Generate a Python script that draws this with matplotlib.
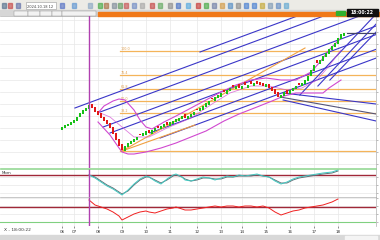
import matplotlib
matplotlib.use("Agg")
from matplotlib import pyplot as plt
from matplotlib.patches import Rectangle
import numpy as np

W, H = 380, 240

# price candles, one per bar (bar 0 = first candle on the chart)
closes = [41, 43, 44, 46, 48, 51, 55, 58, 60, 63,
          60, 56, 53, 50, 47, 44, 40, 34, 28, 22,
          18, 22, 25, 27, 29, 31, 33, 35, 37, 35,
          38, 40, 40, 42, 44, 43, 46, 47, 49, 50,
          52, 50, 52, 54, 56, 58, 60, 62, 65, 67,
          69, 71, 73, 75, 76, 78, 80, 81, 82, 80,
          82, 83, 83, 84, 85, 84, 83, 82, 84, 80,
          77, 74, 71, 73, 76, 74, 78, 80, 82, 83,
          85, 88, 92, 98, 103, 105, 108, 112, 115, 119,
          122, 125, 130, 134, 135]
opens = [38, 40, 42, 43, 45, 47, 51, 54, 57, 59,
         64, 61, 57, 55, 51, 48, 45, 41, 35, 29,
         24, 17, 21, 24, 26, 28, 34, 32, 33, 38,
         34, 37, 42, 39, 41, 46, 42, 44, 46, 47,
         49, 54, 49, 51, 53, 59, 57, 58, 61, 63,
         70, 67, 70, 71, 78, 74, 77, 83, 79, 84,
         79, 86, 80, 87, 82, 87, 86, 85, 81, 84,
         81, 79, 76, 70, 72, 78, 74, 77, 79, 85,
         82, 84, 87, 92, 97, 108, 104, 107, 111, 114,
         118, 121, 124, 129, 132]

day_bars = [0, 4, 12, 20, 28, 36, 45, 53, 60, 68, 76, 84, 92]
day_labels = ["06", "07", "08", "09", "10", "11", "12", "13", "14", "15", "16", "17", "18"]

# bands (bar, price)
upper_bars = [12, 14, 17, 19, 21, 24, 26, 28, 30, 34, 38, 43, 48, 53, 58, 63, 68, 73, 78, 83, 86, 89, 93]
upper_vals = [55, 62, 67, 69, 68, 58, 48, 41, 39, 46, 52, 60, 68, 76, 83, 88, 90, 88, 88, 96, 106, 118, 130]
mid_bars = [12, 16, 20, 24, 29, 35, 43, 50, 56, 63, 69, 75, 80, 85, 89, 93]
mid_vals = [56, 51, 41, 31, 31, 40, 50, 64, 75, 82, 82, 78, 80, 88, 102, 118]
lower_bars = [12, 16, 19, 20, 22, 24, 28, 33, 38, 43, 48, 54, 59, 65, 70, 74, 78, 83, 87, 89, 93]
lower_vals = [46, 33, 20, 16, 14, 14, 16, 20, 25, 31, 37, 47, 54, 61, 67, 72, 75, 75, 75, 80, 88]

# fibonacci levels
fib_low, fib_high = 17, 117
fib_levels = [0.0, 0.382, 0.5, 0.618, 0.764, 1.0]
fib_start = 19.3

# parallel channel lines: start point + common slope
fork_slope = 1.11
fork_bar0 = [4.3, 12.7, 13.7, 16.0, 29.3, 32.7, 46.0]
fork_val0 = [60, 56, 41, 35, 35, 30, 116]

# other trend lines (bar0, val0, bar1, val1)
steep_lines = [(79.3, 73, 104.7, 154), (85.3, 82, 104.7, 144), (89.3, 88, 104.7, 136)]
down_lines = [(73.7, 75, 104.7, 64), (72.7, 71, 104.7, 54), (73.7, 68, 104.7, 47)]
orange_lines = [(20, 17, 81, 120), (20, 17, 44.3, 43)]
last_price = 135

# indicator panels
osc_bars = [9, 11, 13, 15, 17, 19, 20, 22, 24, 26, 28, 29, 31, 33, 35, 37, 38, 40, 41, 43, 45, 47,
            49, 51, 53, 55, 57, 59, 61, 63, 65, 67, 69, 71, 73, 75, 77, 79, 81, 83, 85, 87, 90, 92]
osc_main = [22, 19, 15, 11, 8, 4, 2, 7, 13, 18, 21, 20, 16, 13, 18, 22, 23, 20, 17, 16, 18, 20,
            19, 17, 19, 21, 20, 22, 21, 22, 23, 21, 20, 16, 13, 15, 18, 20, 21, 22, 23, 24, 25, 27]
osc_sig = [22, 20, 16, 12, 9, 5, 3, 6, 12, 17, 20, 20, 17, 14, 17, 21, 22, 20, 18, 16, 17, 19,
           19, 18, 18, 20, 20, 21, 21, 21, 22, 21, 20, 17, 14, 14, 17, 19, 20, 21, 22, 23, 24, 26]
osc_level = 22
mom = [22, 17, 15, 13, 10, 6, 2, 5, 8, 10, 11, 10, 9, 11, 13, 14, 15, 13, 12, 12, 13, 14,
       15, 16, 15, 16, 16, 15, 16, 16, 15, 16, 14, 10, 7, 9, 11, 12, 14, 15, 16, 17, 20, 23]
mom_level = 15
marker_bar = 9

XL = (-20.67, 104.67)
BLUE = "#3a36c8"
ORANGE = "#f4b45a"
MAG = "#d048d0"


def box(top, bottom, left=0, right=376):
    return [left / W, 1 - bottom / H, (right - left) / W, (bottom - top) / H]


fig = plt.figure(figsize=(3.8, 2.4), dpi=100)
fig.patch.set_facecolor("white")

# toolbar + tab strip
fig.add_artist(Rectangle((0, 1 - 10 / H), 1, 10 / H, transform=fig.transFigure, color="#ecebe6", zorder=0))
fig.add_artist(Rectangle((0, 1 - 16 / H), 1, 6 / H, transform=fig.transFigure, color="#d6d6d6", zorder=0))
fig.add_artist(Rectangle((98 / W, 1 - 16 / H), 282 / W, 4 / H, transform=fig.transFigure, color="#f07818", zorder=1))
icon_x = [2, 8, 16, 60, 72, 88, 98, 104, 112, 118, 124, 132, 140, 150, 158, 168, 176, 186, 196, 204,
          212, 220, 228, 236, 244, 252, 260, 268, 276, 284]
icon_c = ["#406080", "#c03030", "#5060a0", "#4060c0", "#4a8ad0", "#80a0c0", "#30a030", "#a06030",
          "#708090", "#509050", "#c04040", "#6080c0", "#a0a0a0", "#c03030", "#50a050", "#808080",
          "#3060c0", "#40a0e0", "#c02020", "#30a030", "#6070a0", "#d09030", "#4080c0", "#808080",
          "#3070d0", "#3070d0", "#c0a020", "#7090b0", "#5080c0", "#50a0d0"]
for x, c in zip(icon_x, icon_c):
    fig.add_artist(Rectangle((x / W, 1 - 8 / H), 4 / W, 5 / H, transform=fig.transFigure,
                             color=c, alpha=0.55, zorder=2))
fig.add_artist(Rectangle((26 / W, 1 - 8.5 / H), 30 / W, 6 / H, transform=fig.transFigure,
                         facecolor="white", edgecolor="#9a9a9a", lw=0.4, zorder=2))
fig.text(27 / W, 1 - 7.5 / H, "2024.10.18 12", fontsize=2.6, color="#444444", zorder=3)
for x0, x1 in [(14, 28), (28, 40), (40, 52), (52, 62), (62, 96)]:
    fig.add_artist(Rectangle((x0 / W, 1 - 15.5 / H), (x1 - x0) / W, 4 / H, transform=fig.transFigure,
                             facecolor="#f2f2f2", edgecolor="#8a8a8a", lw=0.3, zorder=2))
fig.add_artist(Rectangle((336 / W, 1 - 15 / H), 9 / W, 4 / H, transform=fig.transFigure, color="#30b030", zorder=3))
fig.add_artist(Rectangle((347 / W, 1 - 15.5 / H), 31 / W, 6 / H, transform=fig.transFigure, color="#101010", zorder=3))
fig.text(362.5 / W, 1 - 12.7 / H, "18:00:22", fontsize=3.3, color="white", ha="center", va="center",
         fontweight="bold", zorder=4)

# main chart
ax = fig.add_axes(box(16, 168))
ax.set_xlim(*XL)
ax.set_ylim(0, 152)
bars = np.arange(len(closes))
o = np.array(opens)
c = np.array(closes)
cols = np.where(c >= o, "#18c018", "#e01818")
ax.bar(bars, c - o, bottom=o, width=0.75, color=cols, linewidth=0, zorder=4)

for f in fib_levels:
    lv = fib_low + f * (fib_high - fib_low)
    ax.plot([fib_start, XL[1]], [lv, lv], color=ORANGE, lw=0.9, zorder=2)
    ax.text(fib_start + 0.3, lv + 0.8, "%.1f" % (f * 100), fontsize=2.4, color="#e0a050", zorder=2)

for b0, v0 in zip(fork_bar0, fork_val0):
    ax.plot([b0, XL[1]], [v0, v0 + fork_slope * (XL[1] - b0)], color=BLUE, lw=0.8, zorder=3)
for b0, v0, b1, v1 in steep_lines:
    ax.plot([b0, b1], [v0, v1], color=BLUE, lw=0.8, zorder=3)
for i, (b0, v0, b1, v1) in enumerate(down_lines):
    ax.plot([b0, b1], [v0, v1], color="#55557a" if i == 1 else BLUE, lw=0.8, zorder=3)
for b0, v0, b1, v1 in orange_lines:
    ax.plot([b0, b1], [v0, v1], color="#f0a040", lw=0.8, zorder=3)
ax.plot([bars[-1] + 1, XL[1]], [last_price, last_price], color="#444466", lw=0.8, zorder=3)

ax.plot(upper_bars, upper_vals, color=MAG, lw=0.8, zorder=3)
ax.plot(mid_bars, mid_vals, color=MAG, lw=0.6, alpha=0.7, zorder=3)
ax.plot(lower_bars, lower_vals, color=MAG, lw=0.8, zorder=3)
ax.axvline(marker_bar, color="#b040b0", lw=1.0, zorder=5)

# indicator 1
ax1 = fig.add_axes(box(169, 197))
ax1.set_xlim(*XL)
ax1.set_ylim(0, 28)
ax1.axhline(osc_level, color="#a02838", lw=1.0)
ax1.plot(osc_bars, osc_sig, color="#607078", lw=0.7)
ax1.plot(osc_bars, osc_main, color="#40c8c0", lw=0.7)
ax1.axvline(marker_bar, color="#b040b0", lw=1.0)
ax1.text(0.005, 0.92, "Mom", transform=ax1.transAxes, fontsize=2.8, va="top", color="#333333")

# indicator 2
ax2 = fig.add_axes(box(197, 226))
ax2.set_xlim(*XL)
ax2.set_ylim(-4, 25)
ax2.axhline(mom_level, color="#a02838", lw=1.0)
ax2.axhline(0, color="#80d080", lw=0.8)
ax2.plot(osc_bars, mom, color="#f02020", lw=0.7)
ax2.axvline(marker_bar, color="#b040b0", lw=1.0)

for a in (ax, ax1, ax2):
    a.set_facecolor("white")
    a.set_xticks(day_bars)
    a.grid(True, color="#e8e8e8", lw=0.5)
    a.set_axisbelow(True)
    a.yaxis.tick_right()
    a.tick_params(axis="y", length=1.5, width=0.4, labelright=False, colors="#888888")
    a.tick_params(axis="x", length=0, labelbottom=False)
    for s in a.spines.values():
        s.set_color("#b0b0b0")
        s.set_linewidth(0.5)
    a.spines["left"].set_visible(False)
ax.set_yticks(np.arange(4, 152, 12))
ax1.set_yticks([4, 12, 20])
ax2.set_yticks([0, 8, 16, 24])
ax.spines["bottom"].set_color("#80d080")
ax1.spines["top"].set_color("#80d080")
ax2.spines["bottom"].set_visible(False)
ax2.set_xticklabels(day_labels)
ax2.tick_params(axis="x", labelbottom=True, labelsize=3.0, pad=1.5, length=1.2, width=0.4,
                colors="#333333")

fig.text(4 / W, 1 - 230 / H, "X - 18:00:22", fontsize=3.2, va="center", color="#333333")
fig.add_artist(Rectangle((0, 0), 1, 5 / H, transform=fig.transFigure, color="#d8d8d8", zorder=0))
fig.add_artist(Rectangle((345 / W, 0.5 / H), 32 / W, 3.5 / H, transform=fig.transFigure,
                         color="#f4f4f4", zorder=1))

fig.savefig("out.png", dpi=100)
